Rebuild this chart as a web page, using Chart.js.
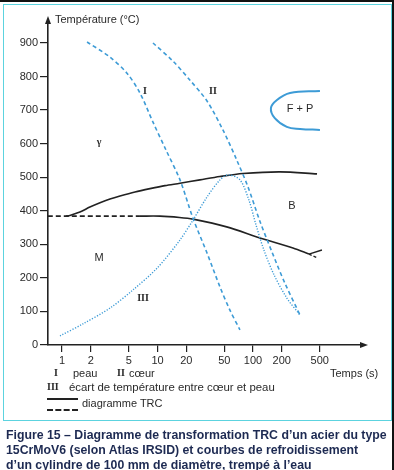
<!DOCTYPE html>
<html>
<head>
<meta charset="utf-8">
<script src="https://cdn.jsdelivr.net/npm/chart.js@4/dist/chart.umd.min.js"></script>
<style>
body{margin:0;background:#fff;font-family:"Liberation Sans",Arial,sans-serif;color:#2a2a2a}
#page{position:relative;width:394px;height:470px;overflow:hidden}
#topbar{position:absolute;left:0;top:0;width:394px;height:2px;background:#111}
#rightbar{position:absolute;left:392px;top:0;width:2px;height:470px;background:#111}
#panel{position:absolute;left:3px;top:4px;width:387px;height:415px;border:1px solid #5cd3df}
#chart{position:absolute;left:0;top:0}
.t{position:absolute;font-size:11px;white-space:nowrap;line-height:12px}
.r{font-family:"Liberation Serif","DejaVu Serif",serif;font-weight:bold;font-size:10px}
.ln{position:absolute;left:47px;width:31px;height:0}
#caption{position:absolute;left:6px;top:428px;font-size:12.3px;font-weight:bold;color:#1d2a52;line-height:15px;white-space:nowrap}
</style>
</head>
<body>
<div id="page">
<div id="topbar"></div>
<div id="rightbar"></div>
<div id="panel"></div>
<canvas id="chart" width="394" height="420"></canvas>
<div class="t" style="left:55px;top:13px">Température (°C)</div>
<div class="t r" style="left:54px;top:367px">I</div>
<div class="t" style="left:73px;top:367px">peau</div>
<div class="t r" style="left:117px;top:367px">II</div>
<div class="t" style="left:129px;top:367px">cœur</div>
<div class="t" style="left:330px;top:367px">Temps (s)</div>
<div class="t r" style="left:47px;top:381px">III</div>
<div class="t" style="left:69px;top:381px;font-size:11.4px">écart de température entre cœur et peau</div>
<div class="ln" style="top:398px;border-top:2px solid #222"></div>
<div class="t" style="left:82px;top:397px">diagramme TRC</div>
<div class="ln" style="top:409px;border-top:2px dashed #222"></div>
<div id="caption">Figure 15 – Diagramme de transformation TRC d’un acier du type<br>15CrMoV6 (selon Atlas IRSID) et courbes de refroidissement<br>d’un cylindre de 100 mm de diamètre, trempé à l’eau</div>
</div>

<script>
// axis ticks
const timeTicks = [1,2,5,10,20,50,100,200,500]
const tempTicks = [0,100,200,300,400,500,600,700,800,900]

// TRC diagram (black)
const msTime = [0.71, 6.55]
const msTemp = [384, 384]
const bsTime = [1.1,1.21,1.54,1.96,2.5,3.18,4.05,5.81,8.35,11.96,17.2,27.8,45,78.6,192,468]
const bsTemp = [384,386,396,411,424,435,444,456,466,475,482,492,502,511,516,510]
const bfTime = [6.55,10.6,17,23.5,53,118,262,385]
const bfTemp = [384,384,380,375,352,319,289,271]
const hookTime = [385,527]
const hookTemp = [271,283]
const tailTime = [385,479]
const tailTemp = [271,259]

// ferrite + pearlite nose (blue solid)
const fpTime = [502,244,178,154,169,226,311,502]
const fpTemp = [757,751,730,706,676,650,644,641]

// cooling curves
const skinTime = [1.83,3.18,4.79,6.55,8.97,12.27,17.2,23.5,33,45.1,57.3,73]
const skinTemp = [903,858,810,751,664,581,492,378,274,173,104,45]
const coreTime = [8.97,14.5,21.9,33,48.4,67.6,88.6,118,158,215,311]
const coreTemp = [900,846,789,727,641,551,471,369,277,185,89]
const diffTime = [0.953,1.66,3.18,5.53,9.9,17.2,23.5,33,45.1,54.8,73,90.6,107.5,130,166,226,311]
const diffTemp = [27,63,110,164,229,313,372,441,492,507,492,432,358,283,209,140,89]

// region labels [text, time, temp, serif]
const regionLabels = [
["I",7.4,757,true],
["II",38,757,true],
["γ",2.44,605,true],
["F + P",311,703,false],
["B",256,414,false],
["M",2.44,259,false],
["III",7.05,140,true]
]

const zip = (xs, ys) => xs.map((x, i) => ({x:x, y:ys[i]}))

const blue = "#3d9bd6"
const black = "#222"

function line(xs, ys, color, dash, width, tension){
return {
data: zip(xs, ys),
showLine: true,
borderColor: color,
borderWidth: width,
borderDash: dash,
pointRadius: 0,
tension: tension,
fill: false
}
}

const decor = {
id: "decor",
afterDraw(chart){
const c = chart.ctx
const a = chart.chartArea
const xs = chart.scales.x
const ys = chart.scales.y
c.save()
c.fillStyle = black
// axis arrows
c.beginPath()
c.moveTo(a.left, a.top - 6)
c.lineTo(a.left - 3, a.top + 2)
c.lineTo(a.left + 3, a.top + 2)
c.closePath()
c.fill()
c.beginPath()
c.moveTo(a.right + 6, a.bottom)
c.lineTo(a.right - 2, a.bottom - 3)
c.lineTo(a.right - 2, a.bottom + 3)
c.closePath()
c.fill()
// region labels
c.textAlign = "center"
c.textBaseline = "middle"
c.fillStyle = "#2a2a2a"
regionLabels.forEach(l => {
c.font = l[3] ? "bold 10px 'Liberation Serif', serif" : "11px 'Liberation Sans', Arial, sans-serif"
c.fillText(l[0], xs.getPixelForValue(l[1]), ys.getPixelForValue(l[2]))
})
c.restore()
}
}

new Chart(document.getElementById("chart"), {
type: "scatter",
data: {
datasets: [
line(skinTime, skinTemp, blue, [4,3], 1.6, 0.3),
line(coreTime, coreTemp, blue, [4,3], 1.6, 0.3),
line(diffTime, diffTemp, blue, [1.2,1.6], 1.4, 0.3),
line(fpTime, fpTemp, blue, [], 2, 0.4),
line(msTime, msTemp, black, [5,3], 1.6, 0),
line(bsTime, bsTemp, black, [], 1.6, 0.3),
line(bfTime, bfTemp, black, [], 1.6, 0.3),
line(hookTime, hookTemp, black, [], 1.4, 0),
line(tailTime, tailTemp, black, [3,2], 1.4, 0)
]
},
options: {
responsive: false,
animation: false,
layout: { padding: { top: 22, right: 32, left: 0, bottom: 0 } },
plugins: { legend: { display: false }, tooltip: { enabled: false } },
scales: {
x: {
type: "logarithmic",
bounds: "data",
min: 0.7137,
max: 1384,
afterBuildTicks: s => { s.ticks = timeTicks.map(v => ({value: v})) },
afterFit: s => { s.height = 75 },
ticks: {
autoSkip: false,
maxRotation: 0,
padding: 2,
color: "#2a2a2a",
font: { family: "'Liberation Sans', Arial, sans-serif", size: 11 },
callback: v => String(v)
},
grid: { drawOnChartArea: false, tickLength: 7, color: black, lineWidth: 1.2 },
border: { color: black, width: 1.6 }
},
y: {
type: "linear",
bounds: "data",
min: 0,
max: 962.5,
afterBuildTicks: s => { s.ticks = tempTicks.map(v => ({value: v})) },
afterFit: s => { s.width = 48 },
ticks: {
padding: 2,
color: "#2a2a2a",
font: { family: "'Liberation Sans', Arial, sans-serif", size: 11 },
callback: v => String(v)
},
grid: { drawOnChartArea: false, tickLength: 8, color: black, lineWidth: 1.2 },
border: { color: black, width: 1.6 }
}
}
},
plugins: [decor]
})
</script>
</body>
</html>
